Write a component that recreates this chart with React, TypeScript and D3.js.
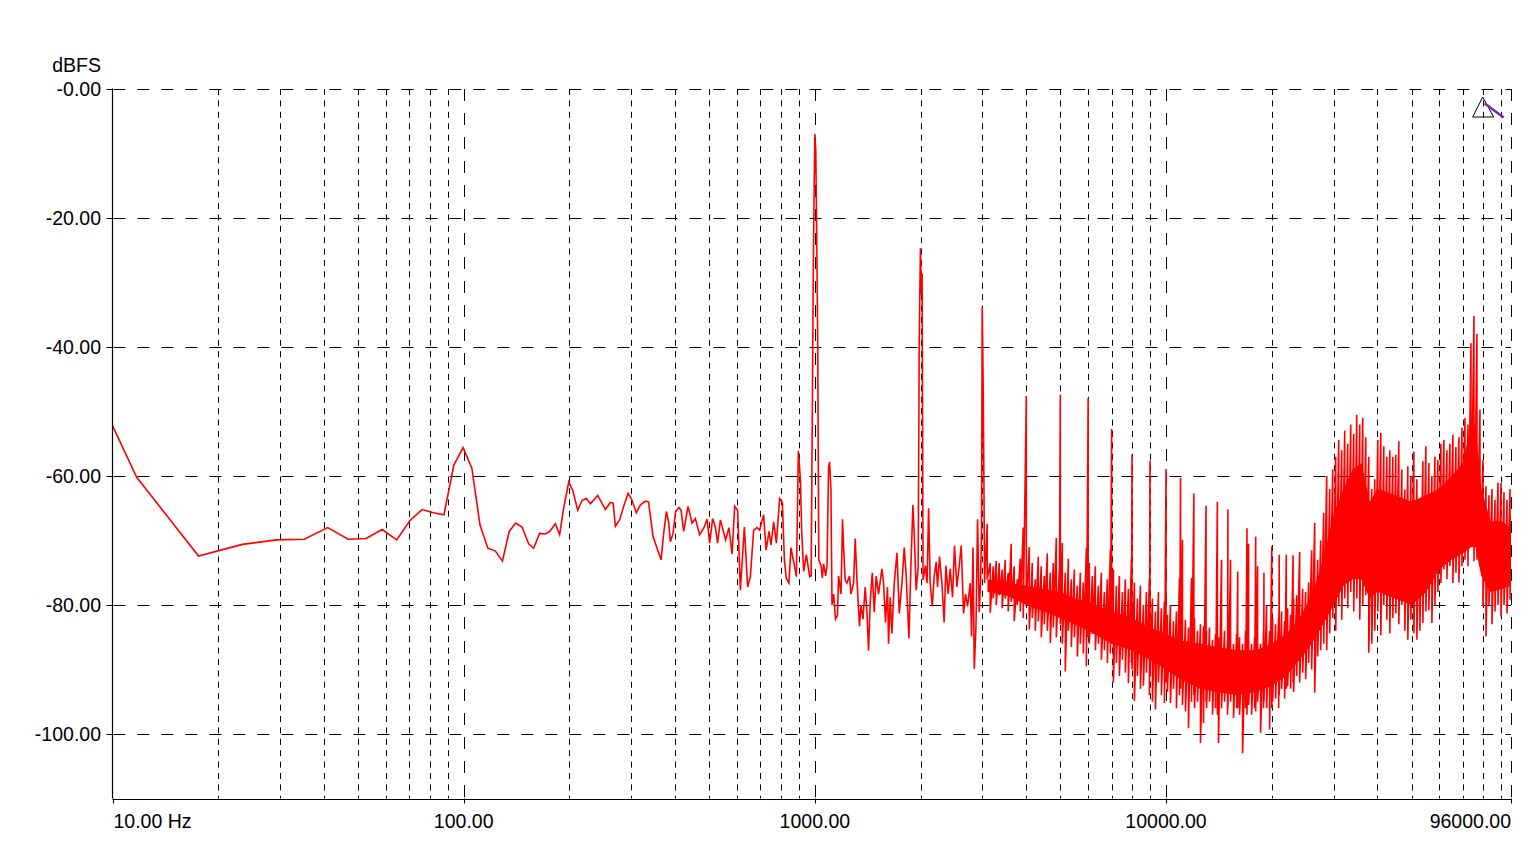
import React from 'react';
import * as d3 from 'd3';

// ---------- data ----------
const yTicks = [0, -20, -40, -60, -80, -100];
const xLabelTicks = [10, 100, 1000, 10000, 96000];
const xLabels = ['10.00 Hz', '100.00', '1000.00', '10000.00', '96000.00'];
const minorGrid = [20, 30, 40, 50, 60, 70, 80, 90, 200, 300, 400, 500, 600, 700, 800, 900,
  2000, 3000, 4000, 5000, 6000, 7000, 8000, 9000, 20000, 30000, 40000, 50000, 60000, 70000, 80000, 90000];
const majorGrid = [100, 1000, 10000, 96000];

// readable part of the spectrum: vertices of the trace (Hz, dBFS)
const lowHz = [10, 11.72, 17.58, 23.44, 29.3, 35.16, 41.02, 46.88, 52.73, 58.59, 64.45, 70.31, 76.17, 82.03, 87.89,
  93.75, 99.61, 105.5, 111.3, 117.2, 123.0, 128.9, 134.8, 140.6, 146.6, 153.1, 158.2, 164.5, 170.9, 175.8, 182.4,
  187.6, 192.6, 199.2, 204.9, 211.2, 217.3, 223.5, 229.5, 240.8, 253.2, 261.5, 266.5, 270.3, 278.0, 285.5, 293.8,
  300.3, 310.2, 318.4, 329.0, 336.1, 346.1, 355.4, 364.9, 371.1, 377.8, 383.7, 387.7, 394.6, 401.4, 409.7, 416.0,
  423.1, 435.4, 447.0, 456.7, 469.8, 482.4, 493.3, 501.7, 511.6, 520.7, 528.7, 538.1, 547.7, 557.1, 569.2, 581.1,
  591.1, 602.8, 613.5, 629.9, 643.7, 655.1, 669.5, 684.6, 696.3, 714.5, 726.3, 740.6, 750.0, 763.3, 777.0, 793.8,
  808.1, 818.8, 829.4, 843.6, 854.9, 870.3, 886.0, 897.5, 909.2, 917.1, 929.2, 945.9, 966.4, 976, 984, 990, 996,
  1000, 1006, 1012, 1019, 1026, 1031, 1041, 1050, 1059, 1073, 1083, 1094, 1101, 1111, 1119, 1131, 1145, 1160, 1168,
  1187, 1199, 1207, 1220, 1234, 1255, 1267, 1289, 1303, 1318, 1340, 1353, 1371, 1391, 1407, 1422, 1438, 1457, 1476,
  1495, 1518, 1552, 1569, 1589, 1610, 1621, 1639, 1657, 1683, 1713, 1739, 1770, 1797, 1820, 1853, 1877, 1902, 1918,
  1943, 1969, 1982, 1998, 2011, 2020, 2033, 2064, 2087, 2108, 2130, 2159, 2187, 2216, 2235, 2264, 2300, 2334, 2361,
  2397, 2429, 2466, 2498, 2538, 2577, 2611, 2651, 2686, 2721, 2770, 2794, 2820, 2844, 2876, 2906, 2938, 2963, 2983,
  2996, 3016, 3030, 3042];
const lowDb = [-52.2, -60.2, -72.4, -70.6, -69.9, -69.8, -68.0, -69.8, -69.7, -68.3, -69.9, -66.9, -65.2, -65.7, -66.0,
  -58.3, -55.6, -58.8, -67.6, -71.2, -71.6, -73.2, -68.6, -67.3, -67.9, -70.5, -71.2, -68.9, -69.0, -68.6, -67.4,
  -69.1, -65.0, -60.9, -62.4, -65.3, -63.8, -63.5, -64.3, -63.0, -65.2, -64.1, -64.2, -67.8, -66.8, -64.7, -62.7,
  -63.5, -65.7, -64.5, -63.9, -64.0, -69.4, -71.2, -73.0, -68.9, -65.5, -67.3, -70.2, -68.9, -65.5, -64.9, -65.3,
  -68.6, -64.7, -67.3, -66.6, -69.1, -68.1, -66.7, -70.4, -66.6, -67.9, -70.4, -66.8, -68.4, -69.9, -68.0, -72.1,
  -64.7, -65.3, -77.7, -67.9, -77.2, -75.6, -68.4, -68.0, -68.4, -66.0, -71.5, -68.6, -70.7, -67.1, -70.4, -63.5,
  -64.1, -73.0, -75.9, -76.6, -71.1, -73.3, -75.6, -56.1, -60.4, -68.4, -74.8, -72.2, -75.6, -75.5, -48.7, -27, -14,
  -7.0, -9.5, -22, -40, -73, -73.3, -73.9, -75.8, -73.6, -75.5, -73.9, -58.7, -57.8, -62, -80, -78.3, -82.2, -81.6, -75.5,
  -78.3, -66.7, -71.1, -76.1, -76.6, -75.5, -78.3, -76.6, -69.7, -76.1, -83.3, -80, -82.2, -77.2, -81.1, -87.1, -79.4, -75, -81.1,
  -75.5, -78.3, -74.4, -76.6, -82.7, -77.2, -86, -78.8, -84.4, -76.6, -71.9, -81.3, -76.6, -71.1, -75.5, -85.2, -73.9, -64.5, -68.9,
  -77.7, -74.1, -39.6, -24.7, -31.9, -28.6, -76.1, -73.9, -76.6, -65, -76.6, -80.2, -75.5, -73.3, -77.2, -72.5, -76.6, -82.7, -73.9,
  -78.3, -74.4, -78.8, -70.8, -77.2, -73.9, -70.8, -81.3, -78.3, -80.2, -76.6, -84.9, -71.1, -89.9, -83.3, -66.7, -81.1, -76.6, -68.3,
  -33.8, -46.8, -61.2, -76.6];

// dense part: per column the highest and lowest level of the trace
const bandHz = [3096, 3158, 3220, 3284, 3350, 3416, 3484, 3553, 3624, 3696, 3770, 3845, 3921, 4000, 4079, 4160, 4243,
  4327, 4413, 4501, 4590, 4682, 4775, 4870, 4967, 5000, 5065, 5166, 5269, 5374, 5481, 5590, 5701, 5814, 5930, 6000,
  6048, 6168, 6291, 6416, 6544, 6674, 6806, 6942, 7000, 7080, 7221, 7364, 7511, 7660, 7812, 7968, 8000, 8126, 8288,
  8453, 8621, 8792, 8967, 9000, 9146, 9328, 9513, 9702, 9895, 10000, 10092, 10293, 10498, 10707, 10920, 11000, 11137,
  11358, 11584, 11815, 12000, 12050, 12290, 12534, 12784, 13000, 13038, 13297, 13562, 13832, 14000, 14107, 14388,
  14674, 14966, 15000, 15264, 15568, 15877, 16000, 16193, 16516, 16844, 17000, 17179, 17521, 17870, 18000, 18226,
  18588, 18958, 19000, 19335, 19720, 20000, 20112, 20512, 20921, 21000, 21337, 21761, 22000, 22194, 22636, 23000,
  23086, 23546, 24014, 24492, 24979, 25476, 25983, 26500, 27028, 27565, 28114, 28673, 29244, 29826, 30419, 31024,
  31642, 32271, 32913, 33568, 34236, 34917, 35612, 36321, 37044, 37781, 38533, 39300, 40082, 40880, 41693, 42523,
  43369, 44232, 45112, 46010, 46926, 47860, 48812, 49783, 50774, 51785, 52815, 53866, 54938, 56031, 57146, 58284,
  59443, 60626, 61833, 63063, 64318, 65598, 66904, 68235, 69593, 70978, 72391, 73831, 75301, 76799, 78327, 79886,
  81476, 83097, 84751, 86437, 88157, 89912, 91701, 93526, 95387, 96000];
const bandHi = [-67.4, -73.5, -74, -73.2, -73.5, -74.5, -73, -75, -70.5, -74, -76, -72.8, -68, -47.6, -71, -73.5, -76,
  -72.5, -74, -75.5, -72, -75, -73.5, -69.6, -74.5, -47.4, -70.4, -75, -72.8, -76, -74.5, -77, -75, -76.5, -71.2, -47.9,
  -73.5, -75.5, -74, -77, -75, -78, -76, -71.4, -52.7, -74.5, -77, -75.5, -78, -76, -77.5, -72.9, -56.7, -76.5, -79,
  -77, -80, -78, -76, -57.6, -79, -81, -78, -80.5, -79.5, -58.9, -81.5, -80, -82.5, -81, -75.9, -60.3, -69.9,
  -82.3, -83.5, -75.8, -62.7, -82, -84, -83, -83.3, -64.6, -84, -83.5, -85.4, -84.5, -64, -85, -73,
  -84, -85.5, -65.2, -73, -86, -84.5, -74.8, -85, -86, -84, -68.1, -70.5, -86, -85, -69.4, -74,
  -86, -84, -75, -80, -84, -70.9, -82, -83, -82, -72.2, -81, -82.5, -72.2, -80.5, -81.5, -72.3,
  -79, -78.5, -71.8, -77.5, -78, -76.5, -71.5, -67.3, -73, -70, -65.7, -60, -62, -59, -57, -54.4,
  -56, -53, -55, -52, -53.5, -50.5, -52, -51, -54, -57, -62, -60.5, -54.4, -53.3, -55.4, -57,
  -56, -57, -56.7, -54.6, -59, -62.1, -58.5, -60, -56.2, -60.5, -63.7, -57.7, -55.4, -58, -60, -57,
  -57.5, -55, -54.4, -56, -55, -53.6, -55.5, -54, -52.5, -51, -52, -39.4, -35.2, -38, -49.7, -57.5,
  -61.6, -63, -62, -63.7, -61, -61.1, -62.5, -63.7, -62, -66];
const bandLo = [-76, -81.2, -79, -80, -78.5, -80.5, -79, -81, -79.5, -82.5, -80, -81, -82, -80, -83.8, -82, -84,
  -82.5, -85, -83, -84, -85.9, -83.5, -85, -82, -83, -86, -90.3, -84, -86.5, -85, -88, -86, -87.5, -89.5, -85,
  -86, -84.5, -87, -86, -88.5, -87, -89, -87.5, -86, -92, -89, -91, -88.5, -90.5, -92.1, -89, -90, -94.9, -91,
  -93, -92.5, -90.5, -94, -91, -95, -96.2, -92, -94, -95.2, -92, -93.5, -95.2, -93, -96, -94, -93, -95.5,
  -96.5, -99.1, -95, -94, -96, -95, -101.4, -98.3, -95, -96, -95, -97, -96, -97, -101.4, -96,
  -95, -97, -96, -95, -97.5, -96, -96, -97, -103, -96, -97, -95.5, -97, -96, -96.5, -95,
  -99.8, -96, -95, -96, -99.3, -96, -95, -94.5, -96, -94, -93, -94.5, -93, -92.6, -93, -92,
  -93.5, -91, -92, -90.5, -91.5, -89, -90, -93.6, -88, -87, -86, -87, -84.4, -82, -84, -80,
  -82.3, -79, -80.5, -78, -81, -79, -82.3, -80, -78.5, -87.4, -86, -84, -81, -84.7, -80, -82.3,
  -84.4, -82, -81.3, -83, -80, -84, -85.4, -82.3, -84.4, -85.4, -84, -82.8, -81, -80.8, -82.8, -80,
  -78, -76.6, -74.5, -76, -74, -76.6, -75, -76.5, -74, -73, -74, -70.9, -73.2, -73, -74, -80.2,
  -84.9, -80, -83, -81, -80, -81.8, -80, -81.3, -79.2, -78];

// solid core of the dense band
const coreHz = [3100, 3500, 4000, 4500, 5000, 5500, 6000, 7000, 8000, 9000, 10000, 11000, 12500, 14000, 16000, 18000,
  20000, 22000, 24000, 26000, 28000, 30000, 32000, 34000, 36000, 38000, 40000, 45000, 50000, 55000, 60000, 65000,
  70000, 74000, 76000, 79000, 84000, 90000, 96000];
const coreTop = [-76, -76.5, -77, -77.5, -78, -79, -79.5, -81, -82, -83.5, -84.5, -85.5, -86, -86.5, -87, -87,
  -86, -84.5, -82, -78.5, -73, -66, -62, -59, -58, -64, -62, -63, -64, -63, -62, -60,
  -58, -52, -52, -62, -67, -67, -68];
const coreBottom = [-78, -78.5, -80, -81, -82, -83, -84, -86, -87, -88.5, -90, -91.5, -93, -93.5, -94, -93.5,
  -92.5, -91, -88.5, -86, -83, -80, -77, -76, -76, -79, -78, -79, -80, -78, -74.5, -73,
  -72, -71, -71, -75.5, -78, -77.5, -77];

// ---------- chart ----------
const W = 1538;
const H = 866;
const FONT = "'Liberation Sans', Arial, Helvetica, sans-serif";
const FS = 19.5;

export default function App() {
  const x = d3.scaleLog().domain([10, 96000]).range([112.5, 1511]);
  const y = d3.scaleLinear().domain([0, -110]).range([89, 798.5]);
  const top = y(0);
  const bottom = y(-110);
  const left = x(10);
  const right = x(96000);

  const pts: [number, number][] = [
    ...lowHz.map((f, i) => [f, lowDb[i]] as [number, number]),
    ...bandHz.flatMap((f, i) => [[f, bandHi[i]], [f, bandLo[i]]] as [number, number][]),
  ];
  const line = d3.line<[number, number]>().x(d => x(d[0])).y(d => y(d[1]));
  const area = d3.area<number>()
    .x(f => x(f))
    .y0((_, i) => y(coreBottom[i]))
    .y1((_, i) => y(coreTop[i]));

  const tx = x(80000);
  return (
    <svg width={W} height={H} style={{ position: 'absolute', left: 0, top: 0, background: '#fff' }}
      fontFamily={FONT}>
      <defs>
        <clipPath id="plot">
          <rect x={left} y={top - 2} width={right - left} height={bottom - top + 2} />
        </clipPath>
      </defs>
      {/* horizontal grid */}
      {yTicks.map(v => (
        <line key={'h' + v} x1={left + 1} x2={right} y1={Math.round(y(v)) + 0.5} y2={Math.round(y(v)) + 0.5}
          stroke="#000" strokeWidth={1} strokeDasharray="12 12" />
      ))}
      {/* vertical grid */}
      {minorGrid.map(f => (
        <line key={'m' + f} x1={Math.round(x(f)) + 0.5} x2={Math.round(x(f)) + 0.5} y1={top} y2={bottom}
          stroke="#000" strokeWidth={1} strokeDasharray="6 5.4" />
      ))}
      {majorGrid.map(f => (
        <line key={'M' + f} x1={Math.round(x(f)) + 0.5} x2={Math.round(x(f)) + 0.5} y1={top} y2={bottom}
          stroke="#000" strokeWidth={1} strokeDasharray="12 12" />
      ))}
      {/* trace */}
      <g clipPath="url(#plot)">
        <path d={area(coreHz) || ''} fill="#ff0000" stroke="none" />
        <path d={line(pts) || ''} fill="none" stroke="#ff0000" strokeWidth={1.6} strokeLinejoin="miter" />
      </g>
      {/* axes */}
      <line x1={left} x2={left} y1={top - 0.5} y2={bottom} stroke="#000" strokeWidth={1.2} />
      <line x1={left} x2={right + 1} y1={Math.round(bottom) + 0.5} y2={Math.round(bottom) + 0.5} stroke="#000" strokeWidth={1.2} />
      {yTicks.map(v => (
        <line key={'yt' + v} x1={left - 6} x2={left} y1={Math.round(y(v)) + 0.5} y2={Math.round(y(v)) + 0.5} stroke="#000" />
      ))}
      {xLabelTicks.map(f => (
        <line key={'xt' + f} x1={Math.round(x(f)) + 0.5} x2={Math.round(x(f)) + 0.5} y1={bottom} y2={bottom + 5} stroke="#000" />
      ))}
      {/* labels */}
      <text x={101} y={72} fontSize={FS} textAnchor="end" fill="#000">dBFS</text>
      {yTicks.map(v => (
        <text key={'yl' + v} x={101} y={y(v) + 7} fontSize={FS} textAnchor="end" fill="#000">
          {'-' + Math.abs(v).toFixed(2)}
        </text>
      ))}
      {xLabelTicks.map((f, i) => (
        <text key={'xl' + f} x={i === 0 ? x(f) + 1 : x(f)} y={828} fontSize={FS}
          textAnchor={i === 0 ? 'start' : i === xLabelTicks.length - 1 ? 'end' : 'middle'} fill="#000">
          {xLabels[i]}
        </text>
      ))}
      {/* marker at top right */}
      <polygon points={`${tx - 0.5},${top + 8} ${tx - 10.5},${top + 28} ${tx + 10.5},${top + 28}`}
        fill="none" stroke="#000" strokeWidth={1} />
      <line x1={tx + 1.5} y1={top + 14.5} x2={tx + 20.5} y2={top + 28.5} stroke="#3a3aff" strokeWidth={2.4} />
      <line x1={tx + 1.5} y1={top + 14} x2={tx + 20.5} y2={top + 28} stroke="#ff0000" strokeWidth={1} />
    </svg>
  );
}
